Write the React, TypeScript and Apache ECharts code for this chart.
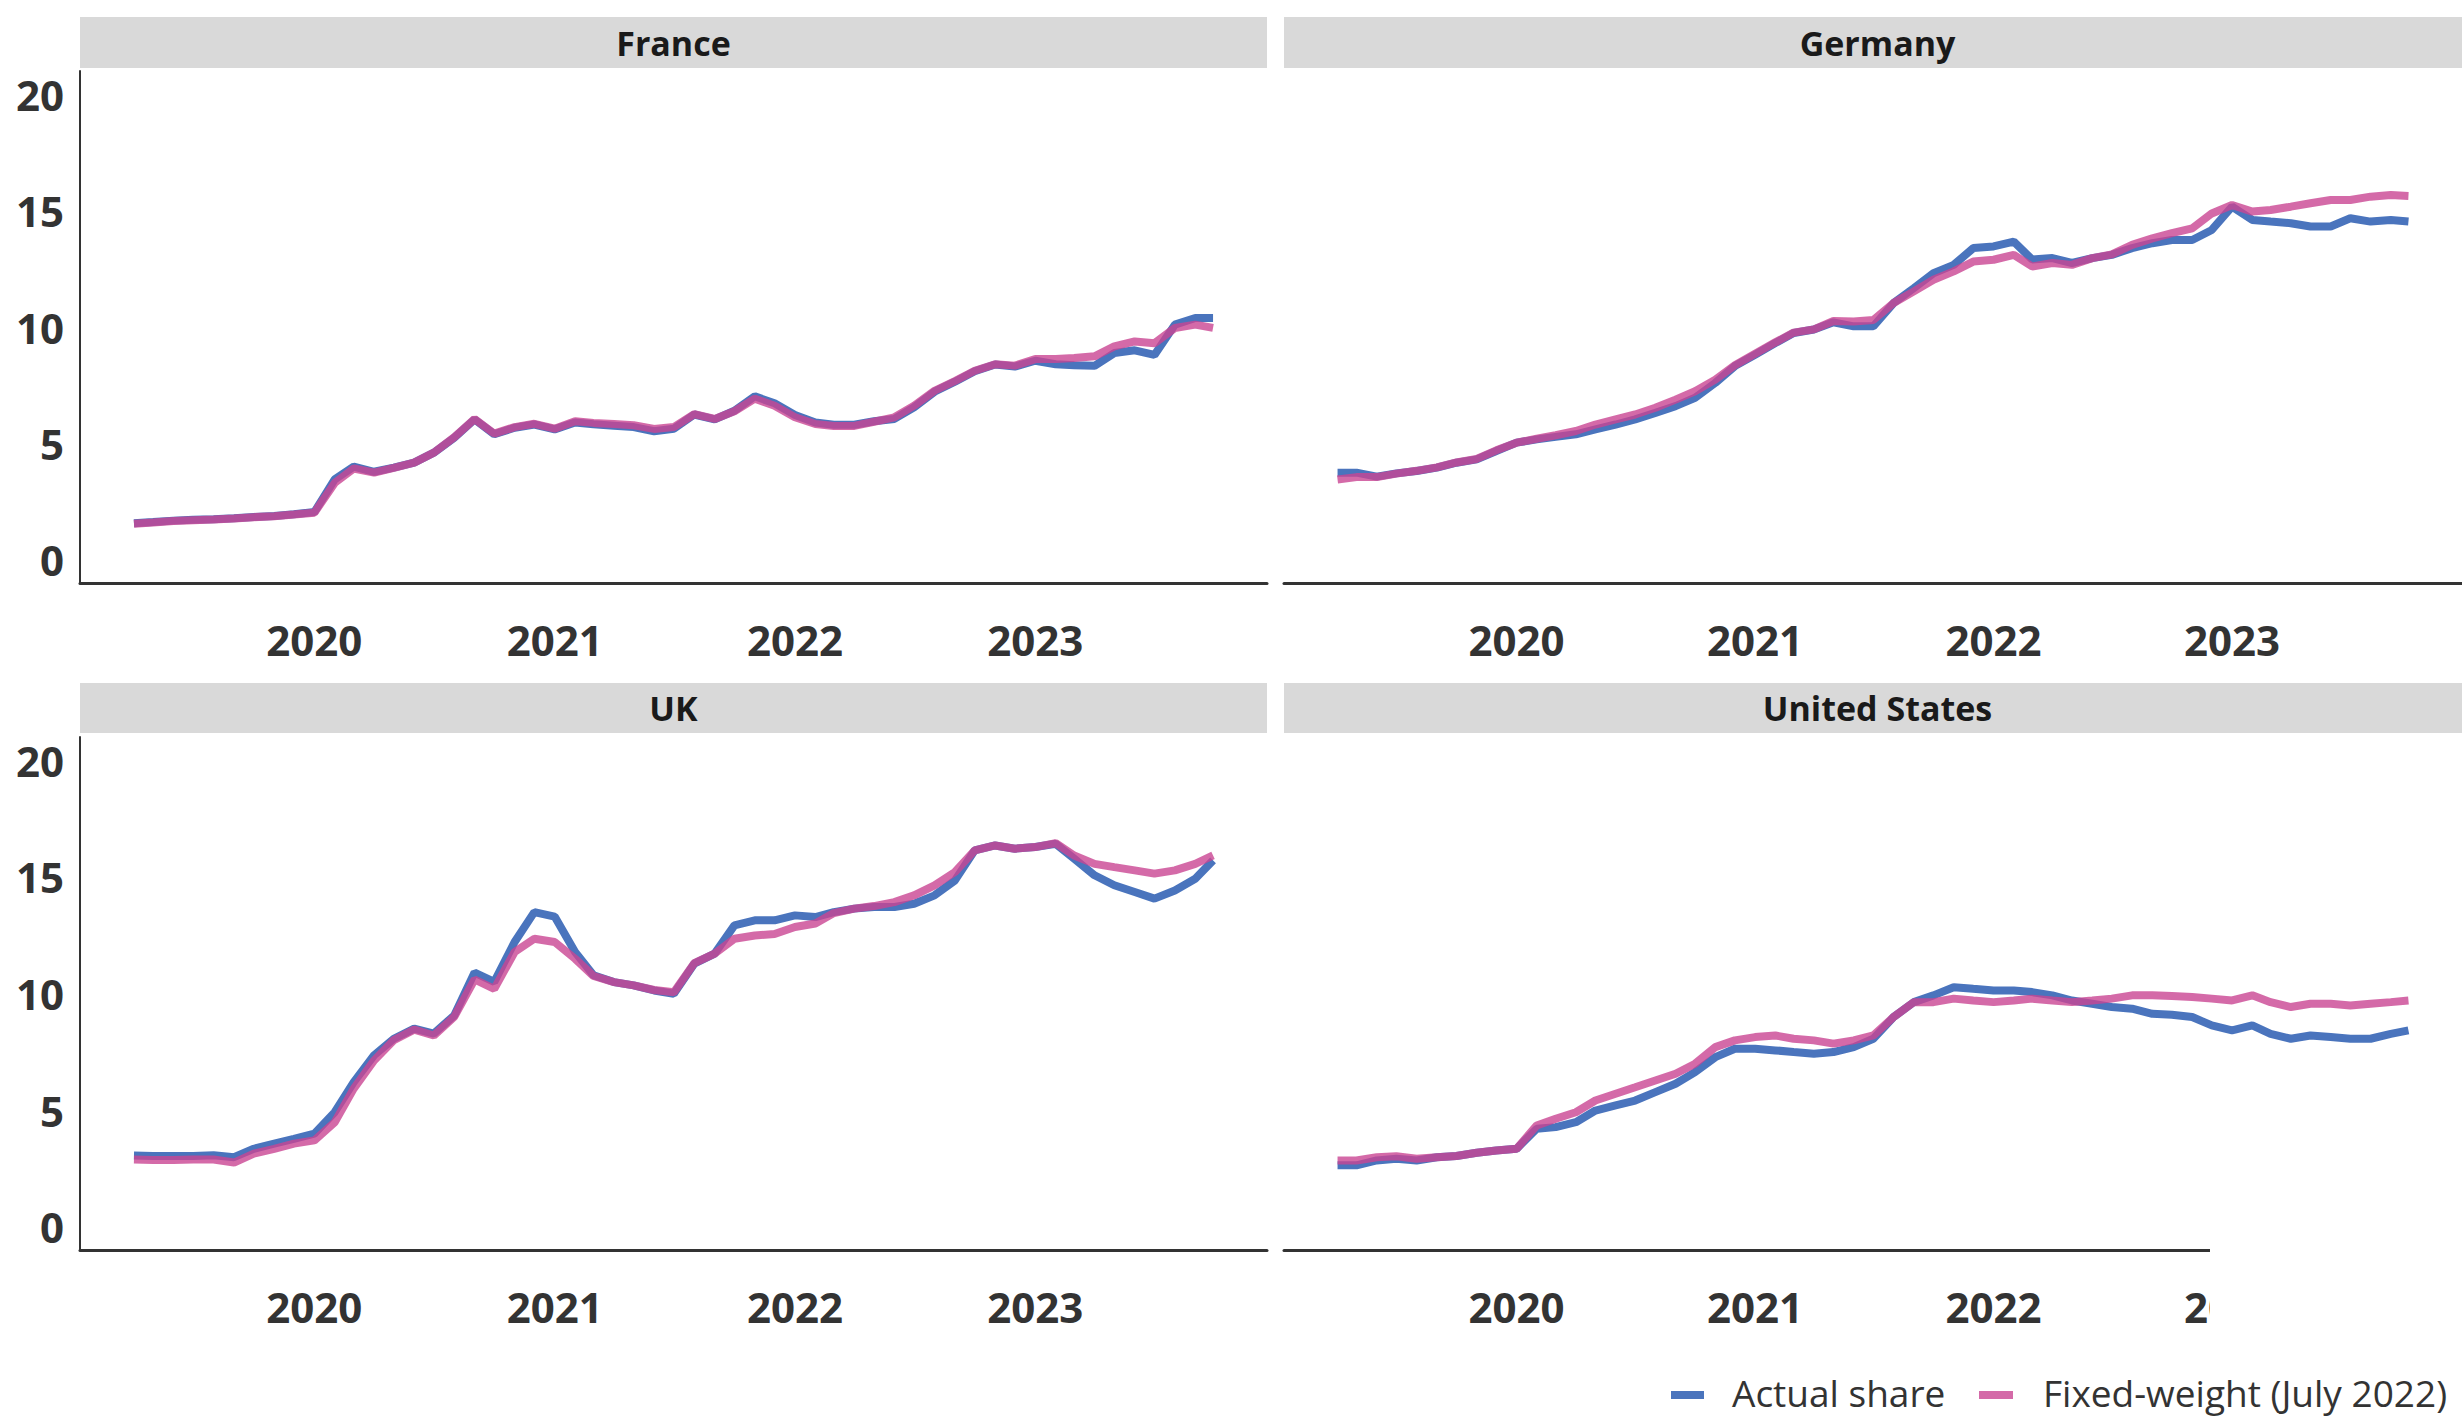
import React, { useEffect, useRef } from "react";
import * as echarts from "echarts";

// ---------- data ----------
const dates = [
  "2019-04-02", "2019-05-01", "2019-06-01", "2019-07-01", "2019-08-01", "2019-09-01", "2019-10-01", "2019-11-01", "2019-12-01",
  "2020-01-01", "2020-02-01", "2020-03-01", "2020-04-01", "2020-05-01", "2020-06-01", "2020-07-01", "2020-08-01", "2020-09-01", "2020-10-01", "2020-11-01", "2020-12-01",
  "2021-01-01", "2021-02-01", "2021-03-01", "2021-04-01", "2021-05-01", "2021-06-01", "2021-07-01", "2021-08-01", "2021-09-01", "2021-10-01", "2021-11-01", "2021-12-01",
  "2022-01-01", "2022-02-01", "2022-03-01", "2022-04-01", "2022-05-01", "2022-06-01", "2022-07-01", "2022-08-01", "2022-09-01", "2022-10-01", "2022-11-01", "2022-12-01",
  "2023-01-01", "2023-02-01", "2023-03-01", "2023-04-01", "2023-05-01", "2023-06-01", "2023-07-01", "2023-08-01", "2023-09-01", "2023-09-28",
];

const countries = ["France", "Germany", "UK", "United States"];
const seriesNames = ["Actual share", "Fixed-weight (July 2022)"];

const franceActual = [
  1.57, 1.62, 1.68, 1.72, 1.74, 1.78, 1.84, 1.88, 1.95,
  2.05, 3.45, 4.0, 3.78, 3.96, 4.17, 4.6, 5.24, 6.03, 5.39, 5.67, 5.81,
  5.6, 5.9, 5.82, 5.76, 5.7, 5.52, 5.63, 6.24, 6.03, 6.4, 7.02, 6.72,
  6.22, 5.9, 5.8, 5.8, 5.95, 6.05, 6.55, 7.22, 7.65, 8.1, 8.39, 8.3,
  8.55, 8.4, 8.36, 8.33, 8.88, 9.0, 8.8, 10.1, 10.39, 10.39,
];
const franceFixed = [
  1.55, 1.6, 1.66, 1.7, 1.73, 1.77, 1.83, 1.87, 1.94,
  2.02, 3.3, 3.92, 3.74, 3.95, 4.17, 4.6, 5.26, 6.05, 5.42, 5.7, 5.84,
  5.63, 5.95, 5.88, 5.83, 5.78, 5.62, 5.7, 6.26, 6.05, 6.38, 6.92, 6.62,
  6.12, 5.83, 5.75, 5.75, 5.93, 6.12, 6.62, 7.26, 7.68, 8.12, 8.4, 8.34,
  8.62, 8.63, 8.67, 8.74, 9.17, 9.38, 9.3, 9.96, 10.1, 9.96,
];

const germanyActual = [
  3.74, 3.74, 3.57, 3.71, 3.81, 3.96, 4.17, 4.31, 4.67,
  5.03, 5.17, 5.28, 5.39, 5.6, 5.81, 6.03, 6.31, 6.6, 6.96, 7.6, 8.32,
  8.81, 9.31, 9.74, 9.89, 10.2, 10.03, 10.03, 11.03, 11.67, 12.31, 12.67, 13.39,
  13.46, 13.67, 12.9, 12.96, 12.75, 12.96, 13.1, 13.39, 13.6, 13.74, 13.74, 14.17,
  15.17, 14.6, 14.53, 14.46, 14.32, 14.32, 14.67, 14.53, 14.6, 14.53,
];
const germanyFixed = [
  3.45, 3.55, 3.55, 3.7, 3.82, 3.97, 4.18, 4.33, 4.7,
  5.03, 5.2, 5.35, 5.53, 5.81, 6.03, 6.24, 6.53, 6.88, 7.24, 7.74, 8.36,
  8.85, 9.34, 9.76, 9.9, 10.26, 10.24, 10.3, 11.03, 11.53, 12.03, 12.39, 12.81,
  12.89, 13.1, 12.6, 12.75, 12.67, 12.96, 13.12, 13.53, 13.81, 14.03, 14.24, 14.88,
  15.24, 14.96, 15.03, 15.17, 15.32, 15.46, 15.46, 15.6, 15.67, 15.63,
];

const ukActual = [
  3.05, 3.03, 3.03, 3.03, 3.06, 2.98, 3.34, 3.56, 3.77,
  3.99, 4.91, 6.2, 7.35, 8.06, 8.49, 8.28, 9.06, 10.9, 10.5, 12.21, 13.49,
  13.3, 11.78, 10.78, 10.49, 10.35, 10.13, 9.99, 11.28, 11.71, 12.92, 13.14, 13.14,
  13.35, 13.28, 13.49, 13.64, 13.71, 13.71, 13.85, 14.21, 14.85, 16.14, 16.35, 16.21,
  16.28, 16.42, 15.78, 15.07, 14.64, 14.35, 14.07, 14.42, 14.92, 15.71,
];
const ukFixed = [
  2.88, 2.86, 2.86, 2.88, 2.88, 2.75, 3.13, 3.34, 3.56,
  3.7, 4.48, 5.92, 7.13, 8.0, 8.45, 8.2, 9.0, 10.6, 10.2, 11.78, 12.35,
  12.21, 11.49, 10.75, 10.49, 10.35, 10.15, 10.05, 11.3, 11.71, 12.35, 12.49, 12.55,
  12.85, 13.0, 13.45, 13.64, 13.75, 13.92, 14.21, 14.64, 15.21, 16.14, 16.35, 16.21,
  16.28, 16.45, 15.92, 15.56, 15.42, 15.28, 15.14, 15.28, 15.56, 15.92,
];

const usActual = [
  2.63, 2.63, 2.84, 2.91, 2.84, 2.98, 3.03, 3.17, 3.27,
  3.34, 4.2, 4.27, 4.48, 4.98, 5.2, 5.41, 5.77, 6.13, 6.63, 7.27, 7.63,
  7.63, 7.56, 7.49, 7.42, 7.49, 7.7, 8.06, 8.99, 9.63, 9.92, 10.27, 10.2,
  10.13, 10.13, 10.06, 9.92, 9.7, 9.56, 9.42, 9.35, 9.13, 9.09, 8.99, 8.63,
  8.42, 8.63, 8.27, 8.06, 8.2, 8.13, 8.06, 8.06, 8.27, 8.42,
];
const usFixed = [
  2.84, 2.84, 2.98, 3.02, 2.91, 2.98, 3.03, 3.17, 3.27,
  3.34, 4.34, 4.63, 4.91, 5.41, 5.7, 5.98, 6.27, 6.56, 6.99, 7.7, 7.99,
  8.13, 8.2, 8.06, 7.99, 7.85, 7.99, 8.2, 8.99, 9.63, 9.63, 9.78, 9.7,
  9.63, 9.7, 9.78, 9.7, 9.63, 9.7, 9.78, 9.92, 9.92, 9.89, 9.85, 9.78,
  9.7, 9.92, 9.63, 9.42, 9.56, 9.56, 9.49, 9.56, 9.63, 9.7,
];

const yTicks = [0, 5, 10, 15, 20];
const xTicks = [2020, 2021, 2022, 2023];

const panelActual = [franceActual, germanyActual, ukActual, usActual];
const panelFixed = [franceFixed, germanyFixed, ukFixed, usFixed];

// ---------- helpers ----------
function decimalYear(s: string): number {
  const [y, m, d] = s.split("-").map(Number);
  const start = Date.UTC(y, 0, 1);
  const end = Date.UTC(y + 1, 0, 1);
  return y + (Date.UTC(y, m - 1, d) - start) / (end - start);
}

const BLUE = "#4a74bd";
const PINK = "#c94592";
const PINK_OPACITY = 0.8;
const FONT = "Open Sans";

export default function App() {
  const ref = useRef<HTMLDivElement>(null);

  useEffect(() => {
    if (!ref.current) return;
    const chart = echarts.init(ref.current, undefined, { renderer: "svg" });

    const xs = dates.map(decimalYear);
    const x0 = xs[0];
    const x1 = xs[xs.length - 1];
    const pad = (x1 - x0) * 0.05;

    const grids = [
      { left: 80, top: 71, width: 1187, height: 512 },
      { left: 1284, top: 71, width: 1187, height: 512 },
      { left: 80, top: 737, width: 1187, height: 513 },
      { left: 1284, top: 737, width: 1187, height: 513 },
    ];

    const labelStyle = {
      fontFamily: FONT,
      fontWeight: "bold" as const,
      fontSize: 42,
      color: "#333333",
    };

    const xAxis = grids.map((_, i) => ({
      type: "value",
      gridIndex: i,
      min: x0 - pad,
      max: x1 + pad,
      axisLine: { show: true, onZero: false, lineStyle: { color: "#333333", width: 3 } },
      axisTick: { show: false },
      splitLine: { show: false },
      axisLabel: {
        ...labelStyle,
        margin: 35,
        customValues: xTicks,
        formatter: (v: number) => String(Math.round(v)),
      },
    }));

    const yAxis = grids.map((_, i) => ({
      type: "value",
      gridIndex: i,
      min: -1,
      max: 21,
      axisLine: { show: i % 2 === 0, onZero: false, lineStyle: { color: "#333333", width: 2 } },
      axisTick: { show: false },
      splitLine: { show: false },
      axisLabel: {
        ...labelStyle,
        show: i % 2 === 0,
        margin: 16,
        customValues: yTicks,
      },
    }));

    const series: any[] = [];
    countries.forEach((c, i) => {
      series.push({
        name: seriesNames[0],
        type: "line",
        xAxisIndex: i,
        yAxisIndex: i,
        showSymbol: false,
        data: xs.map((x, k) => [x, panelActual[i][k]]),
        lineStyle: { color: BLUE, width: 8 },
        itemStyle: { color: BLUE },
        z: 2,
      });
      series.push({
        name: seriesNames[1],
        type: "line",
        xAxisIndex: i,
        yAxisIndex: i,
        showSymbol: false,
        data: xs.map((x, k) => [x, panelFixed[i][k]]),
        lineStyle: { color: PINK, width: 8, opacity: PINK_OPACITY },
        itemStyle: { color: PINK },
        z: 3,
      });
    });

    const strips = [
      { x: 80, y: 17, w: 1187, h: 51 },
      { x: 1284, y: 17, w: 1187, h: 51 },
      { x: 80, y: 683, w: 1187, h: 50 },
      { x: 1284, y: 683, w: 1187, h: 50 },
    ];

    const graphic: any[] = [];
    strips.forEach((s, i) => {
      graphic.push({
        type: "rect",
        shape: { x: s.x, y: s.y, width: s.w, height: s.h },
        style: { fill: "#d9d9d9" },
        z: 10,
      });
      graphic.push({
        type: "text",
        x: s.x + s.w / 2,
        y: s.y + s.h / 2,
        style: {
          text: countries[i],
          font: `bold 34px "${FONT}"`,
          fill: "#1a1a1a",
          align: "center",
          verticalAlign: "middle",
        },
        z: 11,
      });
    });

    // white cover over the clipped bottom-right of the US panel
    graphic.push({
      type: "rect",
      shape: { x: 2210, y: 1236, width: 260, height: 110 },
      style: { fill: "#ffffff" },
      z: 100,
    });

    // legend
    graphic.push({
      type: "rect",
      shape: { x: 1671, y: 1391, width: 33, height: 8 },
      style: { fill: BLUE },
      z: 10,
    });
    graphic.push({
      type: "text",
      x: 1732,
      y: 1392,
      style: {
        text: seriesNames[0],
        font: `37px "${FONT}"`,
        fill: "#333333",
        align: "left",
        verticalAlign: "middle",
      },
      z: 10,
    });
    graphic.push({
      type: "rect",
      shape: { x: 1979, y: 1391, width: 34, height: 8 },
      style: { fill: PINK, opacity: PINK_OPACITY },
      z: 10,
    });
    graphic.push({
      type: "text",
      x: 2043,
      y: 1392,
      style: {
        text: seriesNames[1],
        font: `37px "${FONT}"`,
        fill: "#333333",
        align: "left",
        verticalAlign: "middle",
      },
      z: 10,
    });

    chart.setOption({
      animation: false,
      backgroundColor: "#ffffff",
      textStyle: { fontFamily: FONT },
      grid: grids.map((g) => ({ ...g, containLabel: false })),
      xAxis,
      yAxis,
      series,
      graphic,
    });

    return () => chart.dispose();
  }, []);

  return (
    <div
      ref={ref}
      style={{ position: "fixed", left: 0, top: 0, width: 2462, height: 1417, background: "#fff" }}
    />
  );
}
